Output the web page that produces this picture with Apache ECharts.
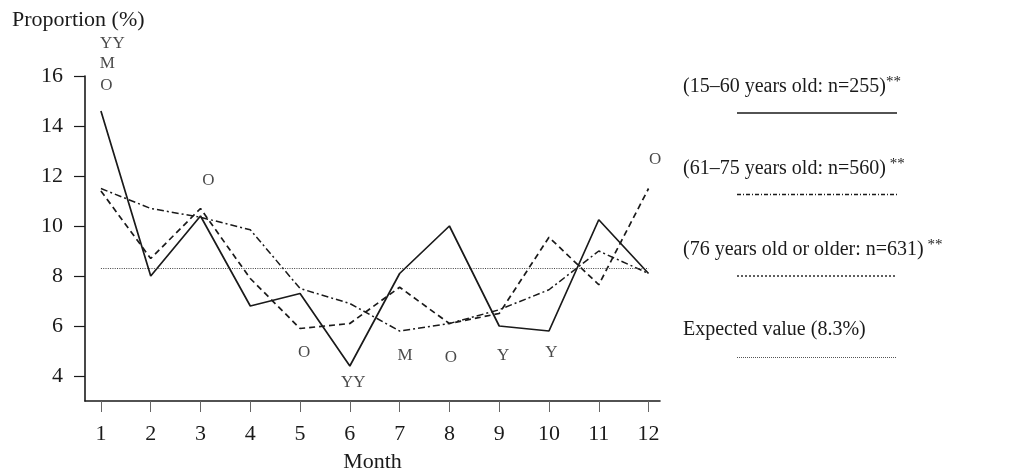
<!DOCTYPE html>
<html>
<head>
<meta charset="utf-8">
<script src="https://cdn.jsdelivr.net/npm/echarts@6/dist/echarts.min.js"></script>
<style>
  html, body { margin: 0; padding: 0; background: #fff; }
  #chart { width: 1019px; height: 475px; }
</style>
</head>
<body>
<div id="chart"></div>
<script>
// Monthly proportion (%) by age group
const months = [1, 2, 3, 4, 5, 6, 7, 8, 9, 10, 11, 12];
const yTicks = [4, 6, 8, 10, 12, 14, 16];

const groupNames = [
  '(15–60 years old: n=255)',
  '(61–75 years old: n=560)',
  '(76 years old or older: n=631)',
  'Expected value (8.3%)'
];
const groupStars = ['**', ' **', ' **', ''];

const young  = [14.6, 8.0, 10.4, 6.8, 7.3, 4.4, 8.1, 10.0, 6.0, 5.8, 10.25, 8.1];
const middle = [11.5, 10.7, 10.35, 9.85, 7.5, 6.9, 5.8, 6.1, 6.65, 7.45, 9.0, 8.1];
const older  = [11.4, 8.7, 10.7, 7.9, 5.9, 6.1, 7.55, 6.1, 6.5, 9.55, 7.65, 11.5];
const expectedValue = 8.3;

// Significance letters: [month position, proportion position, letter]
const sigLetters = [
  [1.23, 17.3, 'YY'], [1.13, 16.5, 'M'], [1.11, 15.6, 'O'],
  [3.16, 11.8, 'O'], [5.08, 4.95, 'O'], [6.07, 3.75, 'YY'],
  [7.11, 4.8, 'M'], [8.03, 4.75, 'O'], [9.08, 4.8, 'Y'],
  [10.05, 4.95, 'Y'], [12.13, 12.65, 'O']
];

const FONT = '"Liberation Serif", "DejaVu Serif", serif';
const INK = '#1a1a1a';

const lineStyles = [
  { type: 'solid', width: 1.7, color: INK },
  { type: [7, 3, 2, 3], width: 1.5, color: INK },
  { type: [6, 4], width: 1.7, color: INK },
  { type: [1, 1.3], width: 1, color: '#444' }
];
const legendLineStyles = [
  { lineDash: null, lineWidth: 1.6, stroke: INK },
  { lineDash: [4, 2, 1, 2], lineWidth: 1.4, stroke: INK },
  { lineDash: [2, 2], lineWidth: 1.4, stroke: INK },
  { lineDash: [1, 1], lineWidth: 1, stroke: '#555' }
];

const pairs = arr => arr.map((v, i) => [months[i], v]);

const legendGraphics = [];
groupNames.forEach((name, i) => {
  const lineY = 113 + i * 81.5;
  legendGraphics.push({
    type: 'text',
    left: 683,
    top: lineY - 38,
    style: {
      text: '{m|' + name + '}' + (groupStars[i] ? '{s|' + groupStars[i] + '}' : ''),
      rich: {
        m: { fontFamily: FONT, fontSize: 20, fill: INK, lineHeight: 24 },
        s: { fontFamily: FONT, fontSize: 15, fill: INK, lineHeight: 15, verticalAlign: 'top' }
      }
    }
  });
  legendGraphics.push({
    type: 'line',
    shape: { x1: 737, y1: lineY, x2: 897, y2: lineY },
    style: legendLineStyles[i]
  });
});

const chart = echarts.init(document.getElementById('chart'), null, { renderer: 'canvas' });
chart.setOption({
  backgroundColor: '#fff',
  animation: false,
  title: {
    text: 'Proportion (%)',
    left: 7,
    top: 4,
    textStyle: { fontFamily: FONT, fontSize: 22, fontWeight: 'normal', color: INK }
  },
  grid: { left: 85, right: 359, top: 76, bottom: 74, outerBoundsMode: 'none', containLabel: false },
  xAxis: {
    type: 'value',
    min: 0.68,
    max: 12.23,
    name: 'Month',
    nameLocation: 'middle',
    nameGap: 50,
    nameTextStyle: { fontFamily: FONT, fontSize: 22, color: INK },
    axisLine: { show: true, lineStyle: { color: INK, width: 1.6 } },
    axisTick: { show: true, length: 11, customValues: months, lineStyle: { color: '#666', width: 1 } },
    axisLabel: { customValues: months, margin: 22, fontFamily: FONT, fontSize: 22, color: INK },
    splitLine: { show: false }
  },
  yAxis: {
    type: 'value',
    min: 3,
    max: 16,
    axisLine: { show: true, lineStyle: { color: INK, width: 1.6 } },
    axisTick: { show: true, length: 11, customValues: yTicks, lineStyle: { color: INK, width: 1.2 } },
    axisLabel: { customValues: yTicks, margin: 22, fontFamily: FONT, fontSize: 22, color: INK },
    splitLine: { show: false }
  },
  series: [
    { name: groupNames[0], type: 'line', data: pairs(young), symbol: 'none', lineStyle: lineStyles[0] },
    { name: groupNames[1], type: 'line', data: pairs(middle), symbol: 'none', lineStyle: lineStyles[1] },
    { name: groupNames[2], type: 'line', data: pairs(older), symbol: 'none', lineStyle: lineStyles[2] },
    {
      name: groupNames[3], type: 'line', symbol: 'none', lineStyle: lineStyles[3],
      data: [[months[0], expectedValue], [months[months.length - 1], expectedValue]]
    },
    {
      type: 'scatter',
      clip: false,
      symbolSize: 1,
      itemStyle: { color: 'rgba(0,0,0,0)' },
      data: sigLetters,
      label: {
        show: true,
        position: 'inside',
        formatter: p => p.data[2],
        fontFamily: FONT,
        fontSize: 17,
        color: INK
      }
    }
  ],
  graphic: legendGraphics
});
</script>
</body>
</html>
